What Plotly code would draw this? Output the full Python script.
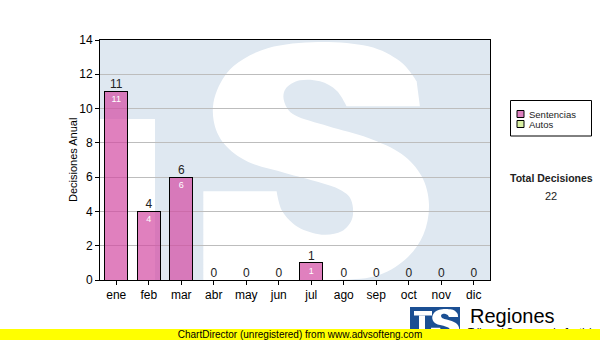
import plotly.graph_objects as go

# ---------------- data ----------------
months = ['ene', 'feb', 'mar', 'abr', 'may', 'jun', 'jul', 'ago', 'sep', 'oct', 'nov', 'dic']
sentencias = [11, 4, 6, 0, 0, 0, 1, 0, 0, 0, 0, 0]
autos = [0, 0, 0, 0, 0, 0, 0, 0, 0, 0, 0, 0]
totales = [s + a for s, a in zip(sentencias, autos)]
total_decisiones = sum(totales)
y_ticks = [0, 2, 4, 6, 8, 10, 12, 14]
series_names = ['Sentencias', 'Autos']

# ---------------- geometry helpers (pixels -> paper) ----------------
W, H = 600, 340
L, R, T, B = 100, 110, 40, 60
PW = W - L - R
PH = H - T - B


def fx(x):
    return (x - L) / PW


def fy(y):
    return (H - B - y) / PH


# watermark "S" outline (in reference zoom coordinates), s = smooth, c = corner
S_PTS = [
    (370, 12, 's'), (520, 25, 's'), (615, 70, 's'), (665, 130, 'c'), (675, 205, 'c'),
    (455, 205, 'c'), (425, 158, 's'), (375, 130, 's'), (315, 127, 's'), (272, 152, 's'),
    (268, 192, 's'), (300, 232, 's'), (400, 265, 's'), (520, 300, 's'), (620, 348, 's'),
    (680, 415, 's'), (702, 500, 's'), (685, 590, 's'), (630, 665, 's'), (540, 715, 's'),
    (420, 745, 's'), (300, 760, 'c'), (25, 760, 'c'), (25, 460, 'c'), (245, 460, 'c'),
    (262, 520, 's'), (310, 568, 's'), (380, 590, 's'), (440, 580, 's'), (472, 540, 's'),
    (468, 485, 's'), (435, 455, 's'), (370, 432, 's'), (270, 405, 's'), (160, 372, 's'),
    (88, 318, 's'), (56, 248, 's'), (62, 168, 's'), (115, 85, 's'), (220, 30, 's'),
]


def s_path(transform):
    P = [transform(x / 3 + 195, y / 3 + 38) for x, y, _ in S_PTS]
    flags = [f for _, _, f in S_PTS]
    n = len(P)

    def tan(i):
        a = P[(i - 1) % n]
        b = P[(i + 1) % n]
        return ((b[0] - a[0]) / 2, (b[1] - a[1]) / 2)

    def pt(p):
        return f"{fx(p[0]):.5f},{fy(p[1]):.5f}"

    d = "M" + pt(P[0])
    for i in range(n):
        j = (i + 1) % n
        p0, p1 = P[i], P[j]
        if flags[i] == 's':
            t = tan(i)
            c1 = (p0[0] + t[0] / 3, p0[1] + t[1] / 3)
        else:
            c1 = p0
        if flags[j] == 's':
            t = tan(j)
            c2 = (p1[0] - t[0] / 3, p1[1] - t[1] / 3)
        else:
            c2 = p1
        d += " C" + pt(c1) + " " + pt(c2) + " " + pt(p1)
    return d + " Z"


def wm_transform(x, y):
    return (x, min(y, H - B))


def logo_transform(x, y):
    return (431 + (x - 203) * 0.125, 309 + (min(y, 280) - 42) * 0.125)


def rect(x0, y0, x1, y1, **kw):
    return dict(type='rect', xref='paper', yref='paper',
                x0=fx(x0), x1=fx(x1), y0=fy(y1), y1=fy(y0), **kw)


LIGHT_BLUE = '#dfe8f1'
PINK = 'rgba(211,74,162,0.7)'
PINK_SOLID = '#dd80bf'
GREEN = '#d9f0a3'
LOGO_BLUE = '#1b4f93'

shapes = [
    # watermark
    rect(L, T, L + PW, T + PH, fillcolor=LIGHT_BLUE, line=dict(width=0), layer='below'),
    rect(L, 119, 155, T + PH, fillcolor='white', line=dict(width=0), layer='below'),
    dict(type='path', xref='paper', yref='paper', path=s_path(wm_transform),
         fillcolor='white', line=dict(width=0), layer='below'),
    # legend box
    rect(510.5, 100.5, 591.5, 136, fillcolor='white', line=dict(color='black', width=1)),
    rect(517, 110.5, 524, 117.5, fillcolor=PINK_SOLID, line=dict(color='black', width=1)),
    rect(517, 120.5, 524, 127.5, fillcolor=GREEN, line=dict(color='black', width=1)),
    # bottom logo
    rect(410, 307, 460, 336, fillcolor=LOGO_BLUE, line=dict(width=0)),
    rect(414, 311, 432, 315.5, fillcolor='white', line=dict(width=0)),
    rect(419, 315.5, 425, 336, fillcolor='white', line=dict(width=0)),
    dict(type='path', xref='paper', yref='paper', path=s_path(logo_transform),
         fillcolor='white', line=dict(width=0)),
]

FONT = 'Liberation Sans, Arial, sans-serif'


def ann(x, y, text, size, color='#222222', xanchor='center', **kw):
    return dict(xref='paper', yref='paper', x=fx(x), y=fy(y), text=text, showarrow=False,
                xanchor=xanchor, yanchor='middle', font=dict(family=FONT, size=size, color=color), **kw)


annotations = [
    ann(73, 160, 'Decisiones Anual', 11, color='black', textangle=-90),
    ann(527, 114, series_names[0], 9.5, xanchor='left'),
    ann(527, 124.5, series_names[1], 9.5, xanchor='left'),
    ann(551, 178, '<b>Total Decisiones</b>', 10.5),
    ann(551, 196, str(total_decisiones), 11),
    ann(468, 316, 'Regiones', 20, color='black', xanchor='left'),
    ann(466, 332, 'Tribunal Supremo de Justicia', 10, color='black', xanchor='left'),
    ann(300, 334.5, 'ChartDirector (unregistered) from www.advsofteng.com', 10, color='black',
        bgcolor='#ffff00', width=600, height=11, borderpad=0, borderwidth=0),
]

fig = go.Figure()
fig.add_trace(go.Bar(x=months, y=sentencias, name=series_names[0],
                     text=[str(v) if v > 0 else '' for v in sentencias],
                     textposition='inside', insidetextanchor='end', constraintext='none',
                     textangle=0,
                     insidetextfont=dict(family=FONT, size=9, color='white'),
                     marker=dict(color=PINK, line=dict(color='black', width=1)),
                     hoverinfo='x+y'))
fig.add_trace(go.Bar(x=months, y=autos, name=series_names[1],
                     marker=dict(color=GREEN, line=dict(color='black', width=1)),
                     hoverinfo='x+y'))
fig.add_trace(go.Scatter(x=months, y=totales, mode='text', text=[str(v) for v in totales],
                         textposition='top center', cliponaxis=False, hoverinfo='skip',
                         textfont=dict(family=FONT, size=12, color='#222222')))

fig.update_layout(
    width=W, height=H,
    margin=dict(l=L, r=R, t=T, b=B, pad=0),
    paper_bgcolor='white', plot_bgcolor='white',
    barmode='stack', bargap=0.29,
    showlegend=False,
    font=dict(family=FONT, size=12, color='black'),
    shapes=shapes,
    annotations=annotations,
    xaxis=dict(type='category', range=[-0.5, 11.5], showgrid=False, zeroline=False,
               showline=True, linecolor='black', linewidth=1, mirror=True,
               ticks='outside', ticklen=4, tickcolor='black',
               tickfont=dict(family=FONT, size=12, color='black')),
    yaxis=dict(range=[0, 14], tickvals=y_ticks, showgrid=True, gridcolor='#bdbdbd', gridwidth=1,
               zeroline=False, showline=True, linecolor='black', linewidth=1, mirror=True,
               ticks='outside', ticklen=4, tickcolor='black',
               tickfont=dict(family=FONT, size=12, color='black')),
)

fig.write_html('out.html')
